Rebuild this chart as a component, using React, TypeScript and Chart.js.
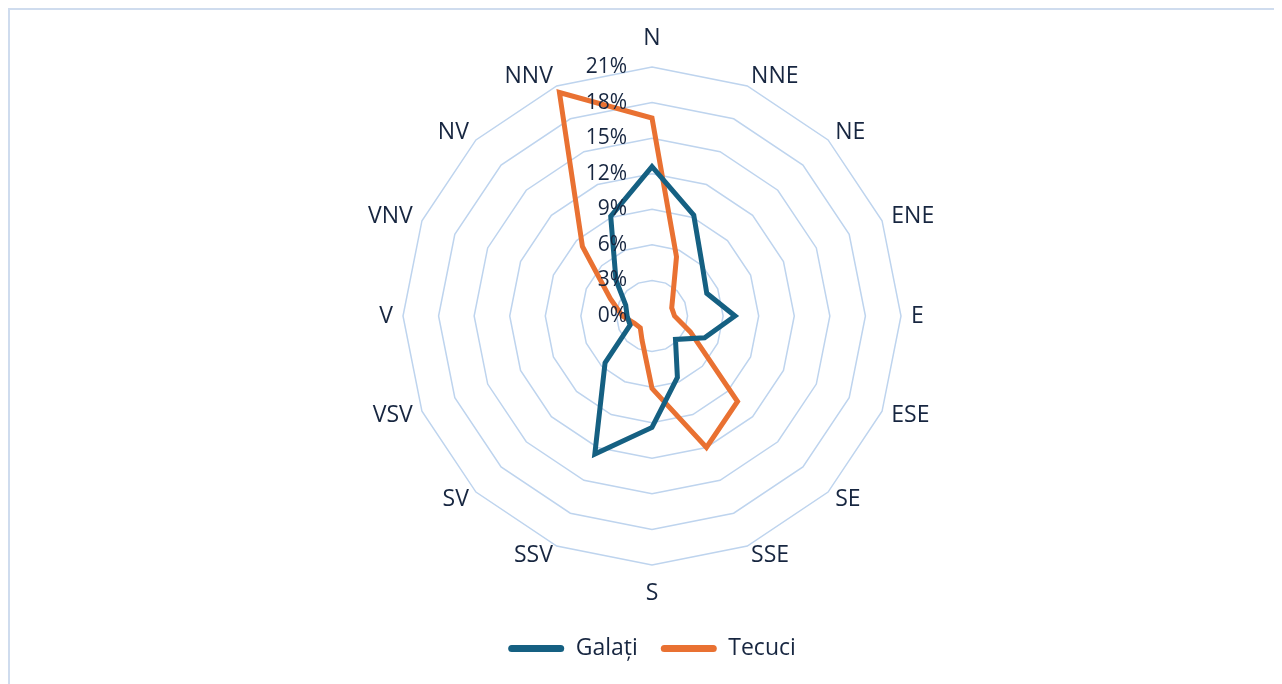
import React, { useEffect, useRef } from "react";
import { Chart, registerables } from "chart.js";

Chart.register(...registerables);

// ---- data ----
const directions = ["N", "NNE", "NE", "ENE", "E", "ESE", "SE", "SSE", "S", "SSV", "SV", "VSV", "V", "VNV", "NV", "NNV"];
const galati = [12.6, 9.2, 6.0, 5.0, 7.0, 4.8, 2.8, 5.6, 9.4, 12.6, 5.6, 2.0, 2.1, 2.4, 4.3, 9.1];
const tecuci = [16.7, 5.4, 2.5, 1.8, 1.9, 3.5, 10.2, 12.0, 6.1, 2.2, 1.4, 1.6, 2.5, 3.8, 8.3, 20.4];
const tickValues = [0, 3, 6, 9, 12, 15, 18, 21];
const seriesNames = ["Galați", "Tecuci"];

// ---- styles ----
const COLORS = ["#156082", "#E97132"];
const TEXT = "#172640";
const GRID = "#BED4EE";
const FRAME = "#CFDCEE";
const FONT = '"Open Sans", "Noto Sans", sans-serif';
const PL_SIZE = 23;
const TICK_SIZE = 21;
const LEGEND_SIZE = 23;

const textPlugin = {
  id: "excelText",
  afterDatasetsDraw(chart: any) {
    const scale = chart.scales.r;
    const ctx = chart.ctx as CanvasRenderingContext2D;
    ctx.save();
    ctx.fillStyle = TEXT;
    ctx.textBaseline = "middle";
    // point labels
    ctx.font = `${PL_SIZE}px ${FONT}`;
    const n = directions.length;
    directions.forEach((lab, i) => {
      const p = scale.getPointPosition(i, scale.drawingArea + 10);
      const ang = (i * 360) / n;
      let align: CanvasTextAlign = "center";
      let y = p.y;
      if (ang === 0) y -= 19;
      else if (ang === 180) y += 18;
      else if (ang < 180) align = "left";
      else align = "right";
      ctx.textAlign = align;
      ctx.fillText(lab, p.x, y);
    });
    // tick labels
    ctx.font = `${TICK_SIZE}px ${FONT}`;
    ctx.textAlign = "right";
    tickValues.forEach((v) => {
      const p = scale.getPointPositionForValue(0, v);
      ctx.fillText(`${v}%`, p.x - 25, p.y);
    });
    ctx.restore();
  },
};

export default function App() {
  const ref = useRef<HTMLCanvasElement | null>(null);

  useEffect(() => {
    document.documentElement.style.overflow = "hidden";
    const canvas = ref.current;
    if (!canvas) return;
    const chart = new Chart(canvas, {
      type: "radar",
      data: {
        labels: directions,
        datasets: [
          {
            label: seriesNames[0],
            data: galati,
            borderColor: COLORS[0],
            backgroundColor: COLORS[0],
            fill: false,
            borderWidth: 5,
            pointRadius: 0,
            pointHoverRadius: 0,
            tension: 0,
          },
          {
            label: seriesNames[1],
            data: tecuci,
            borderColor: COLORS[1],
            backgroundColor: COLORS[1],
            fill: false,
            borderWidth: 5,
            pointRadius: 0,
            pointHoverRadius: 0,
            tension: 0,
          },
        ],
      },
      options: {
        responsive: false,
        animation: false,
        events: [],
        layout: { padding: { top: 57, bottom: 14, left: 16, right: 0 } },
        scales: {
          r: {
            min: 0,
            max: 21,
            startAngle: 0,
            ticks: { display: false, stepSize: 3 },
            grid: { color: GRID, lineWidth: 1.5, circular: false },
            angleLines: { display: false },
            pointLabels: { display: false },
          },
        },
        plugins: {
          tooltip: { enabled: false },
          legend: {
            position: "bottom",
            title: { display: true, text: "", padding: 0, font: { size: 49, lineHeight: 1 } },
            labels: {
              boxWidth: 56,
              boxHeight: 7,
              padding: 23,
              color: TEXT,
              font: { family: FONT, size: LEGEND_SIZE },
              generateLabels: (c: any) =>
                Chart.defaults.plugins.legend.labels.generateLabels(c).map((it: any) => ({
                  ...it,
                  lineWidth: 0,
                  borderRadius: 3.5,
                  fillStyle: COLORS[it.datasetIndex],
                })),
            },
          },
        },
      },
      plugins: [textPlugin],
    });
    return () => chart.destroy();
  }, []);

  return (
    <div
      style={{
        width: 1272,
        height: 676,
        boxSizing: "border-box",
        borderTop: `2px solid ${FRAME}`,
        borderLeft: `2px solid ${FRAME}`,
        borderRight: `2px solid ${FRAME}`,
        background: "#fff",
      }}
    >
      <canvas ref={ref} width={1268} height={674} style={{ display: "block", width: 1268, height: 674 }} />
    </div>
  );
}
